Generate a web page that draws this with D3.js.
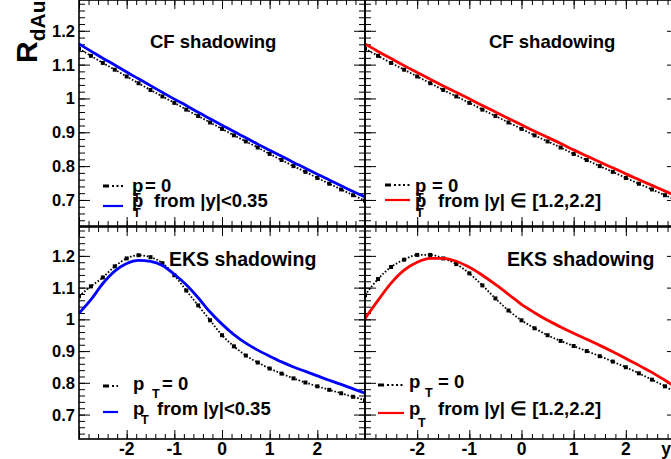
<!DOCTYPE html>
<html>
<head>
<meta charset="utf-8">
<script src="https://cdn.jsdelivr.net/npm/d3@7"></script>
<style>
  body { margin: 0; background: #fff; }
  svg { display: block; font-family: "Liberation Sans", Arial, Helvetica, sans-serif; font-weight: bold; }
</style>
</head>
<body>
<div id="chart"></div>
<script>
// rapidity grid shared by every curve
const rapidity = [-3, -2.75, -2.5, -2.25, -2, -1.75, -1.5, -1.25, -1, -0.75, -0.5, -0.25, 0,
                  0.25, 0.5, 0.75, 1, 1.25, 1.5, 1.75, 2, 2.25, 2.5, 2.75, 3];

// CF shadowing
const cfPt0 = [1.147, 1.126, 1.105, 1.085, 1.065, 1.045, 1.025, 1.006, 0.987, 0.967, 0.948, 0.929, 0.910,
               0.891, 0.873, 0.855, 0.836, 0.818, 0.800, 0.783, 0.765, 0.748, 0.731, 0.714, 0.698];
const cfMid = [1.161, 1.140, 1.119, 1.099, 1.078, 1.058, 1.038, 1.018, 0.998, 0.979, 0.959, 0.940, 0.921,
               0.902, 0.884, 0.865, 0.847, 0.829, 0.811, 0.794, 0.776, 0.759, 0.742, 0.725, 0.709];
const cfFwd = [1.161, 1.139, 1.118, 1.097, 1.077, 1.057, 1.037, 1.018, 0.999, 0.979, 0.960, 0.941, 0.922,
               0.903, 0.885, 0.867, 0.848, 0.830, 0.812, 0.795, 0.777, 0.760, 0.743, 0.726, 0.710];

// EKS shadowing
const eksPt0Mid = [1.073, 1.104, 1.132, 1.167, 1.192, 1.202, 1.196, 1.177, 1.139, 1.091, 1.044, 0.997, 0.950,
                   0.915, 0.886, 0.864, 0.845, 0.829, 0.814, 0.801, 0.789, 0.778, 0.767, 0.756, 0.745];
const eksMid = [1.019, 1.062, 1.113, 1.152, 1.176, 1.186, 1.183, 1.170, 1.142, 1.109, 1.068, 1.023, 0.985,
                0.952, 0.925, 0.903, 0.884, 0.866, 0.850, 0.836, 0.822, 0.808, 0.795, 0.781, 0.767];
const eksPt0Fwd = [1.076, 1.127, 1.165, 1.188, 1.203, 1.203, 1.192, 1.174, 1.145, 1.107, 1.066, 1.028, 0.997,
                   0.972, 0.950, 0.932, 0.916, 0.900, 0.884, 0.867, 0.849, 0.830, 0.810, 0.789, 0.765];
const eksFwd = [1.003, 1.060, 1.114, 1.155, 1.180, 1.192, 1.192, 1.183, 1.164, 1.139, 1.110, 1.079, 1.047,
                1.021, 0.997, 0.976, 0.956, 0.937, 0.918, 0.898, 0.877, 0.855, 0.833, 0.808, 0.782];

// ticks and labels
const yMajor = [0.7, 0.8, 0.9, 1.0, 1.1, 1.2];
const yTickLabels = ['0.7', '0.8', '0.9', '1', '1.1', '1.2'];
const xMajor = [-3, -2, -1, 0, 1, 2, 3];
const xLabelled = [-2, -1, 0, 1, 2];
const xTickLabels = ['-2', '-1', '0', '1', '2'];
const yMinor = d3.range(33).map(i => 0.64 + i * 0.02);
const xMinor = d3.range(31).map(i => -3 + i * 0.2);

const legendRest = ['= 0', 'from |y|<0.35', 'from |y| \u2208 [1.2,2.2]'];

const W = 671, H = 459;
const yDomain = [0.623, 1.291];
const xDomain = [-3, 3];

const svg = d3.select('#chart')
  .append('svg')
  .attr('width', W)
  .attr('height', H);

const panels = [
  { id: 'tl', x0: 79, x1: 365, y0: 0, y1: 226, ref: cfPt0, vals: cfMid, color: '#0000ff',
    title: 'CF shadowing', tx: 150, ty: 48, tsize: 18.5, ylab: true, xlab: false,
    leg: { sx0: 103, sx1: 123, sy: [186, 206], px: 132, by: [192, 207], tX: [133, 133], tY: [202, 217],
           rx: [145, 154], rest: [legendRest[0], legendRest[1]], size: 18.5 } },
  { id: 'bl', x0: 79, x1: 365, y0: 227, y1: 439, ref: eksPt0Mid, vals: eksMid, color: '#0000ff',
    title: 'EKS shadowing', tx: 169, ty: 266, tsize: 19.5, ylab: true, xlab: true,
    leg: { sx0: 103, sx1: 118, sy: [386, 412], px: 133, by: [390, 415], tX: [152, 141], tY: [398, 424],
           rx: [162, 157], rest: [legendRest[0], legendRest[1]], size: 18.5 } },
  { id: 'tr', x0: 365, x1: 678, y0: 0, y1: 226, ref: cfPt0, vals: cfFwd, color: '#ff0000',
    title: 'CF shadowing', tx: 489, ty: 48, tsize: 18.5, ylab: false, xlab: false,
    leg: { sx0: 385, sx1: 410, sy: [185, 200], px: 415, by: [192, 207], tX: [416, 416], tY: [202, 217],
           rx: [432, 438], rest: [legendRest[0], legendRest[2]], size: 18.5 } },
  { id: 'br', x0: 365, x1: 678, y0: 227, y1: 439, ref: eksPt0Fwd, vals: eksFwd, color: '#ff0000',
    title: 'EKS shadowing', tx: 507, ty: 266, tsize: 19.5, ylab: false, xlab: true,
    leg: { sx0: 378, sx1: 404, sy: [385, 413], px: 409, by: [388, 415], tX: [425, 418], tY: [397, 427],
           rx: [438, 438], rest: [legendRest[0], legendRest[2]], size: 18.5 } }
];

function noDomain(s) { s.select('.domain').remove(); }

function drawPanel(p) {
  const g = svg.append('g');
  const x = d3.scaleLinear().domain(xDomain).range([p.x0, p.x1]);
  const y = d3.scaleLinear().domain(yDomain).range([p.y1, p.y0]);

  g.append('clipPath').attr('id', 'clip-' + p.id)
    .append('rect')
    .attr('x', p.x0).attr('y', p.y0)
    .attr('width', p.x1 - p.x0).attr('height', p.y1 - p.y0);

  // ticks on all four sides, pointing in
  const tickSets = [
    [d3.axisLeft(y), p.x0, 0, yMinor, yMajor, 6, 11],
    [d3.axisRight(y), p.x1, 0, yMinor, yMajor, 6, 11],
    [d3.axisBottom(x), 0, p.y1, xMinor, xMajor, 5, 9],
    [d3.axisTop(x), 0, p.y0, xMinor, xMajor, 5, 9]
  ];
  tickSets.forEach(([ax, tx, ty, minor, major, lenMin, lenMaj]) => {
    g.append('g')
      .attr('transform', `translate(${tx},${ty})`)
      .call(ax.tickValues(minor).tickSize(-lenMin).tickFormat(''))
      .call(noDomain);
    g.append('g')
      .attr('transform', `translate(${tx},${ty})`)
      .call(ax.tickValues(major).tickSize(-lenMaj).tickFormat(''))
      .call(noDomain);
  });
  g.selectAll('.tick line').attr('stroke', '#000').attr('stroke-width', 1);

  if (p.ylab) {
    g.selectAll('.ylab')
      .data(yMajor)
      .enter()
      .append('text')
      .attr('x', p.x0 - 4)
      .attr('y', d => y(d))
      .attr('dy', '0.36em')
      .attr('text-anchor', 'end')
      .attr('font-size', 16.5)
      .text((d, i) => yTickLabels[i]);
  }
  if (p.xlab) {
    g.selectAll('.xlab')
      .data(xLabelled)
      .enter()
      .append('text')
      .attr('x', d => x(d))
      .attr('y', 455)
      .attr('text-anchor', 'middle')
      .attr('font-size', 17.5)
      .text((d, i) => xTickLabels[i]);
  }

  const line = d3.line()
    .x(d => x(d[0]))
    .y(d => y(d[1]))
    .curve(d3.curveMonotoneX);

  const plot = g.append('g').attr('clip-path', `url(#clip-${p.id})`);
  const refPts = rapidity.map((r, i) => [r, p.ref[i]]);
  const valPts = rapidity.map((r, i) => [r, p.vals[i]]);

  // pT = 0 reference: dotted line with small square markers
  plot.append('path')
    .attr('d', line(refPts))
    .attr('fill', 'none')
    .attr('stroke', '#000')
    .attr('stroke-width', 1.8)
    .attr('stroke-dasharray', '1.6,1.8');
  plot.selectAll('.mk')
    .data(refPts)
    .enter()
    .append('rect')
    .attr('x', d => x(d[0]) - 2)
    .attr('y', d => y(d[1]) - 2)
    .attr('width', 4)
    .attr('height', 4)
    .attr('fill', '#000');

  plot.append('path')
    .attr('d', line(valPts))
    .attr('fill', 'none')
    .attr('stroke', p.color)
    .attr('stroke-width', 2.8);

  // frame
  g.append('rect')
    .attr('x', p.x0).attr('y', p.y0)
    .attr('width', p.x1 - p.x0).attr('height', p.y1 - p.y0)
    .attr('fill', 'none')
    .attr('stroke', '#000')
    .attr('stroke-width', 1.6);

  g.append('text')
    .attr('x', p.tx)
    .attr('y', p.ty)
    .attr('font-size', p.tsize)
    .text(p.title);

  // legend
  const L = p.leg;
  g.append('rect')
    .attr('x', L.sx0).attr('y', L.sy[0] - 1.5)
    .attr('width', 6).attr('height', 3)
    .attr('fill', '#000');
  g.append('line')
    .attr('x1', L.sx0 + 9).attr('x2', L.sx1)
    .attr('y1', L.sy[0]).attr('y2', L.sy[0])
    .attr('stroke', '#000')
    .attr('stroke-width', 2)
    .attr('stroke-dasharray', '2,2.5');
  g.append('line')
    .attr('x1', L.sx0).attr('x2', L.sx1)
    .attr('y1', L.sy[1]).attr('y2', L.sy[1])
    .attr('stroke', p.color)
    .attr('stroke-width', 2.2);

  [0, 1].forEach(i => {
    const t = g.append('text').attr('font-size', L.size);
    t.append('tspan').attr('x', L.px).attr('y', L.by[i]).text('p');
    t.append('tspan').attr('x', L.tX[i]).attr('y', L.tY[i]).attr('font-size', L.size * 0.68).text('T');
    t.append('tspan').attr('x', L.rx[i]).attr('y', L.by[i]).text(L.rest[i]);
  });
}

panels.forEach(drawPanel);

// axis titles
const yt = svg.append('text')
  .attr('transform', 'translate(37,63) rotate(-90)');
yt.append('tspan').attr('font-size', 30).text('R');
yt.append('tspan').attr('font-size', 21).attr('dy', 8).text('dAu');

svg.append('text')
  .attr('x', 671)
  .attr('y', 455)
  .attr('text-anchor', 'end')
  .attr('font-size', 17.5)
  .text('y');
</script>
</body>
</html>
